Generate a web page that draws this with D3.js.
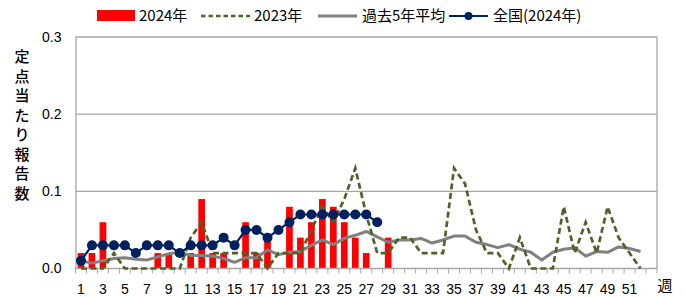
<!DOCTYPE html>
<html><head><meta charset="utf-8">
<script src="https://cdn.jsdelivr.net/npm/d3@7"></script>
<style>
html,body{margin:0;padding:0;background:#fff;}
svg text{font-family:"Liberation Sans","Noto Sans CJK JP",sans-serif;fill:#000;}
</style></head>
<body><svg id="c" width="686" height="297"></svg>
<script>
const weeks = d3.range(1, 54);
const xLabels = [1,3,5,7,9,11,13,15,17,19,21,23,25,27,29,31,33,35,37,39,41,43,45,47,49,51];
const yTicks = [0, 0.1, 0.2, 0.3];
const seriesNames = ["2024年", "2023年", "過去5年平均", "全国(2024年)"];
const yTitle = "定点当たり報告数";
const xTitle = "週";

// 2024 bars, weeks 1-29
const v2024 = [0.02,0.02,0.06,0,0,0,0,0.02,0.02,0,0.02,0.09,0.02,0.02,0,0.06,0.02,0.04,0,0.08,0.04,0.06,0.09,0.08,0.06,0.04,0.02,0,0.04];
// 2023 line, weeks 1-52
const v2023 = [0,0,0,0.02,0,0,0,0,0,0,0.04,0.06,0.02,0.02,0.02,0.02,0.02,0,0.02,0.02,0.02,0.05,0.08,0.06,0.09,0.13,0.07,0.02,0.02,0.04,0.04,0.02,0.02,0.02,0.13,0.11,0.05,0.02,0.02,0,0.04,0,0,0,0.08,0.02,0.06,0.02,0.08,0.04,0.02,0];
// past 5-year average, weeks 1-52
const vAvg = [0.010,0.007,0.010,0.013,0.014,0.012,0.011,0.015,0.019,0.021,0.017,0.017,0.016,0.013,0.008,0.014,0.014,0.024,0.018,0.021,0.022,0.030,0.037,0.031,0.039,0.043,0.048,0.041,0.034,0.037,0.037,0.039,0.033,0.037,0.042,0.042,0.034,0.031,0.027,0.031,0.025,0.021,0.011,0.021,0.025,0.027,0.016,0.022,0.021,0.028,0.026,0.022];
// national 2024, weeks 1-28
const vNat = [0.01,0.03,0.03,0.03,0.03,0.02,0.03,0.03,0.03,0.02,0.03,0.03,0.03,0.04,0.03,0.05,0.05,0.04,0.05,0.06,0.07,0.07,0.07,0.07,0.07,0.07,0.07,0.06];

const svg = d3.select("#c");
const L = 75.5, R = 657, T = 37, B = 268.5;
const x = d3.scaleBand().domain(weeks).range([L, R]).paddingInner(0.39).paddingOuter(0.195);
const xb = d3.scaleBand().domain(weeks).range([L, R]);
const cx = w => xb(w) + xb.bandwidth() / 2;
const y = d3.scaleLinear().domain([0, 0.3]).range([B, T]);

// gridlines
svg.append("g").selectAll("line").data(yTicks.filter(d => d > 0)).join("line")
  .attr("x1", L).attr("x2", R).attr("y1", d => y(d)).attr("y2", d => y(d))
  .attr("stroke", "#a6a6a6").attr("stroke-width", 1.3);
// right border
svg.append("line").attr("x1", R).attr("x2", R).attr("y1", y(0.3)).attr("y2", B)
  .attr("stroke", "#a6a6a6").attr("stroke-width", 1.3);

// y axis
const ya = svg.append("g").attr("transform", `translate(${L},0)`)
  .call(d3.axisLeft(y).tickValues(yTicks).tickFormat(d3.format(".1f")).tickSize(0).tickPadding(14));
ya.select(".domain").attr("stroke", "#a6a6a6").attr("stroke-width", 1.3);
ya.selectAll("text").style("font-size", "14px").attr("font-family", "Liberation Sans, sans-serif");

// bars
svg.append("g").selectAll("rect").data(v2024.map((v, i) => ({w: i + 1, v}))).join("rect")
  .attr("x", d => x(d.w)).attr("width", x.bandwidth())
  .attr("y", d => y(d.v)).attr("height", d => B - y(d.v)).attr("fill", "#ff0000");

// x axis
const xa = svg.append("g").attr("transform", `translate(0,${B})`);
xa.append("line").attr("x1", L).attr("x2", R).attr("stroke", "#a6a6a6").attr("stroke-width", 1.3);
xa.selectAll("line.t").data(weeks.concat([54])).join("line").attr("class", "t")
  .attr("x1", d => d === 54 ? R : xb(d)).attr("x2", d => d === 54 ? R : xb(d))
  .attr("y1", 0).attr("y2", 5).attr("stroke", "#a6a6a6").attr("stroke-width", 1);
xa.selectAll("text").data(xLabels).join("text")
  .attr("x", d => cx(d)).attr("y", 25).attr("text-anchor", "middle")
  .style("font-size", "14px").text(d => d);
svg.append("text").attr("x", 665).attr("y", 291).attr("text-anchor", "middle")
  .style("font-size", "15px").style("font-family", "Noto Sans CJK JP").text(xTitle);

// lines
const line = d3.line().x((d, i) => cx(i + 1)).y(d => y(d));
svg.append("path").datum(vAvg).attr("d", line).attr("fill", "none")
  .attr("stroke", "#808080").attr("stroke-width", 3).attr("stroke-linejoin", "round");
svg.append("path").datum(v2023).attr("d", line).attr("fill", "none")
  .attr("stroke", "#4f6228").attr("stroke-width", 2.7).attr("stroke-dasharray", "6,3.5");
svg.append("path").datum(vNat).attr("d", line).attr("fill", "none")
  .attr("stroke", "#002060").attr("stroke-width", 2.2);
svg.append("g").selectAll("circle").data(vNat).join("circle")
  .attr("cx", (d, i) => cx(i + 1)).attr("cy", d => y(d)).attr("r", 5).attr("fill", "#002060");

// y title
const yt = svg.append("text").attr("x", 22).attr("y", 62).attr("text-anchor", "middle")
  .style("font-size", "15px").style("font-family", "Noto Sans CJK JP").style("font-weight", "500");
yt.selectAll("tspan").data(yTitle.split("")).join("tspan")
  .attr("x", 22).attr("dy", (d, i) => i === 0 ? 0 : 19.5).text(d => d);

// legend
const lg = svg.append("g").style("font-size", "15px");
lg.append("rect").attr("x", 97).attr("y", 10).attr("width", 38).attr("height", 11).attr("fill", "#ff0000");
lg.append("text").attr("x", 139).attr("y", 21).style("font-family", "Noto Sans CJK JP").text(seriesNames[0]);
lg.append("line").attr("x1", 201).attr("x2", 250).attr("y1", 16).attr("y2", 16)
  .attr("stroke", "#4f6228").attr("stroke-width", 2.4).attr("stroke-dasharray", "4.5,3");
lg.append("text").attr("x", 254).attr("y", 21).style("font-family", "Noto Sans CJK JP").text(seriesNames[1]);
lg.append("line").attr("x1", 318).attr("x2", 357).attr("y1", 16).attr("y2", 16)
  .attr("stroke", "#808080").attr("stroke-width", 3);
lg.append("text").attr("x", 362).attr("y", 21).style("font-family", "Noto Sans CJK JP").text(seriesNames[2]);
lg.append("line").attr("x1", 449).attr("x2", 488).attr("y1", 16).attr("y2", 16)
  .attr("stroke", "#002060").attr("stroke-width", 2);
lg.append("circle").attr("cx", 468.5).attr("cy", 16).attr("r", 4).attr("fill", "#002060");
lg.append("text").attr("x", 493).attr("y", 21).style("font-family", "Noto Sans CJK JP").text(seriesNames[3]);
</script></body></html>
